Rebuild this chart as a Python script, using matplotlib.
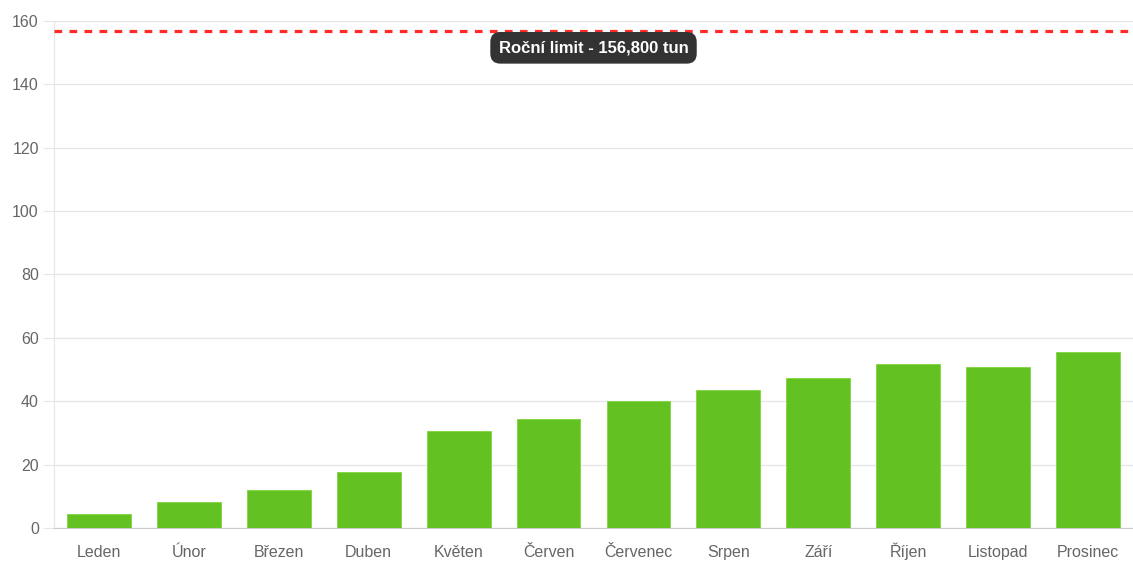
import matplotlib
matplotlib.use("Agg")
from matplotlib import pyplot as plt
import numpy as np

plt.rcParams['font.family'] = ['Liberation Sans', 'DejaVu Sans']

months = ['Leden', 'Únor', 'Březen', 'Duben', 'Květen', 'Červen',
          'Červenec', 'Srpen', 'Září', 'Říjen', 'Listopad', 'Prosinec']
values = [4.4, 8.3, 12.1, 17.6, 30.7, 34.3, 40.0, 43.5, 47.4, 51.7, 50.9, 55.5]
limit = 156.8
limit_label = 'Roční limit - 156,800 tun'
yticks = [0, 20, 40, 60, 80, 100, 120, 140, 160]

fig = plt.figure(figsize=(11.33, 5.63), dpi=100)
ax = fig.add_axes([0.0477, 0.0622, 0.9523, 0.9005])

x = np.arange(len(months))
ax.bar(x, values, width=0.71, color='#63c122', edgecolor='#7fd63f', linewidth=0.6, zorder=3)

ax.axhline(limit, color='#ff2a2a', linewidth=2.3, linestyle=(0, (2.4, 2.3)), zorder=4)

ax.set_xlim(-0.5, len(months) - 0.5)
ax.set_ylim(0, 160)
ax.set_yticks(yticks)
ax.set_xticks(x)
ax.set_xticklabels(months)

ax.grid(axis='y', color='#e6e6e6', linewidth=1, zorder=0)
for side in ['top', 'right']:
    ax.spines[side].set_visible(False)
ax.spines['left'].set_color('#e6e6e6')
ax.spines['bottom'].set_color('#cccccc')
ax.tick_params(axis='y', length=8, color='#e6e6e6', labelsize=11.5, labelcolor='#666666', pad=3)
ax.tick_params(axis='x', length=0, labelsize=11.5, labelcolor='#666666', pad=21)
for lab in ax.get_xticklabels():
    lab.set_verticalalignment('baseline')

# tooltip under the limit line
ax.annotate(limit_label, xy=(5.5, limit), xytext=(0, -12), textcoords='offset points',
            ha='center', va='center', color='white', fontsize=12, fontweight='bold', zorder=5,
            bbox=dict(boxstyle='round,pad=0.5,rounding_size=0.6', fc='#333333', ec='none'))

fig.savefig('out.png', dpi=100)
